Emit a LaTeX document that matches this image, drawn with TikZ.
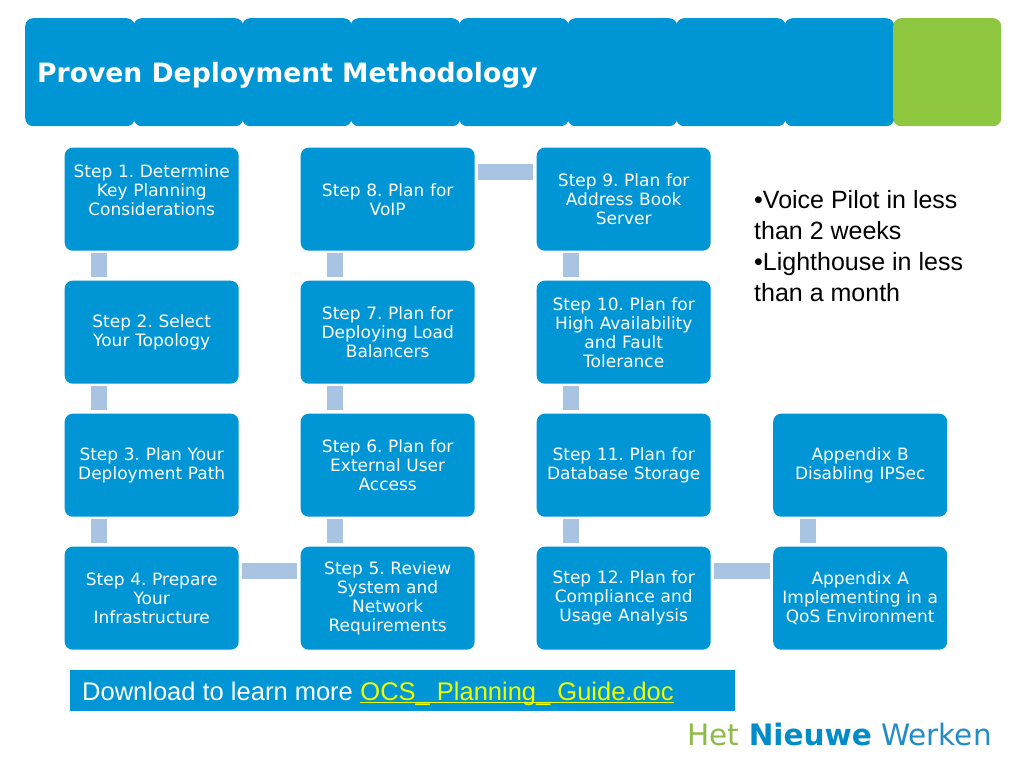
\documentclass[tikz,border=0pt]{standalone}
\usepackage{fontspec}
\setmainfont{DejaVu Sans}
\newfontfamily\arialfont{Liberation Sans}
\usetikzlibrary{calc}
\definecolor{boxblue}{RGB}{0,150,214}
\definecolor{connblue}{RGB}{169,196,226}
\definecolor{hgreen}{RGB}{141,198,63}
\definecolor{linkyellow}{RGB}{235,255,0}
\definecolor{hetgreen}{RGB}{141,186,72}
\definecolor{nieuweblue}{RGB}{0,140,200}
\definecolor{werkenblue}{RGB}{35,140,200}
\frenchspacing
\begin{document}
\begin{tikzpicture}[x=1pt,y=-1pt,
  stepbox/.style={fill=boxblue, rounded corners=8pt, minimum width=174pt, minimum height=103pt,
    anchor=north west, text=white, align=center, inner sep=0pt, text width=172pt,
    font=\fontsize{17}{19}\selectfont},
  tile/.style={rounded corners=8pt, minimum width=109.5pt, minimum height=108pt, anchor=north west, inner sep=0pt},
  link/.style={draw=connblue, line width=16pt},
  dltext/.style={anchor=base west, inner sep=0pt, font=\arialfont\fontsize{25.5}{28}\selectfont}]
\fill[white] (0,0) rectangle (1024,768);
\useasboundingbox (0,0) rectangle (1024,768);
% header tiles
\foreach \i in {0,...,7}{
  \node[tile, fill=boxblue] (t\i) at ({25+108.5*\i},18) {};
}
\node[tile, fill=hgreen, minimum width=108pt] (t8) at (893,18) {};
\node[anchor=base west, text=white, font=\bfseries\fontsize{26.6}{30}\selectfont, inner sep=0pt] (title) at (37,82) {Proven Deployment Methodology};
% step boxes
\node[stepbox] (s1) at (64.5,147.5) {Step 1. Determine\\Key Planning\\Considerations\\\mbox{}};
\node[stepbox] (s2) at (64.5,280.5) {Step 2. Select\\Your Topology};
\node[stepbox] (s3) at (64.5,413.5) {Step 3. Plan Your\\Deployment Path};
\node[stepbox] (s4) at (64.5,546.5) {Step 4. Prepare\\Your\\Infrastructure};
\node[stepbox] (s8) at (300.5,147.5) {Step 8. Plan for\\VoIP};
\node[stepbox] (s7) at (300.5,280.5) {Step 7. Plan for\\Deploying Load\\Balancers};
\node[stepbox] (s6) at (300.5,413.5) {Step 6. Plan for\\External User\\Access};
\node[stepbox] (s5) at (300.5,546.5) {Step 5. Review\\System and\\Network\\Requirements};
\node[stepbox] (s9) at (536.5,147.5) {Step 9. Plan for\\Address Book\\Server};
\node[stepbox] (s10) at (536.5,280.5) {Step 10. Plan for\\High Availability\\and Fault\\Tolerance};
\node[stepbox] (s11) at (536.5,413.5) {Step 11. Plan for\\Database Storage};
\node[stepbox] (s12) at (536.5,546.5) {Step 12. Plan for\\Compliance and\\Usage Analysis};
\node[stepbox] (apb) at (773,413.5) {Appendix B\\Disabling IPSec};
\node[stepbox] (apa) at (773,546.5) {Appendix A\\Implementing in a\\QoS Environment};
% vertical connectors
\foreach \u/\l in {s1/s2, s2/s3, s3/s4, s6/s5, s7/s6, s8/s7, s9/s10, s10/s11, s11/s12, apb/apa}{
  \draw[link] ($(\u.south west)+(34.5,2.5)$) -- ($(\l.north west)+(34.5,-3.5)$);
}
% horizontal connectors
\foreach \a/\b in {s4/s5, s8/s9, s12/apa}{
  \draw[link] ($(\a.north east)+(3.5,24)$) -- ($(\b.north west)+(-3.5,24)$);
}
% bullets
\node[anchor=north west, inner sep=0pt, align=left, font=\arialfont\fontsize{25}{31}\selectfont] (bul) at (754,190)
  {•Voice Pilot in less\\than 2 weeks\\•Lighthouse in less\\than a month};
% bottom bar
\node[fill=boxblue, minimum width=665pt, minimum height=41pt, anchor=north west, inner sep=0pt] (bar) at (70,670) {};
\node[dltext, text=white] (dl) at (82,700) {Download to learn more};
\node[dltext, text=linkyellow] (lk) at ($(dl.base east)+(7.1,0)$) {OCS\_ Planning\_ Guide.doc};
\draw[draw=linkyellow, line width=1.3pt] ($(lk.base west)+(0,2.8)$) -- ($(lk.base east)+(0,2.8)$);
% footer
\node[anchor=base east, inner sep=0pt, font=\fontsize{29.5}{32}\selectfont] (foot) at (992,745)
  {\textcolor{hetgreen}{Het} \textcolor{nieuweblue}{\bfseries Nieuwe} \textcolor{werkenblue}{Werken}};
\end{tikzpicture}
\end{document}
